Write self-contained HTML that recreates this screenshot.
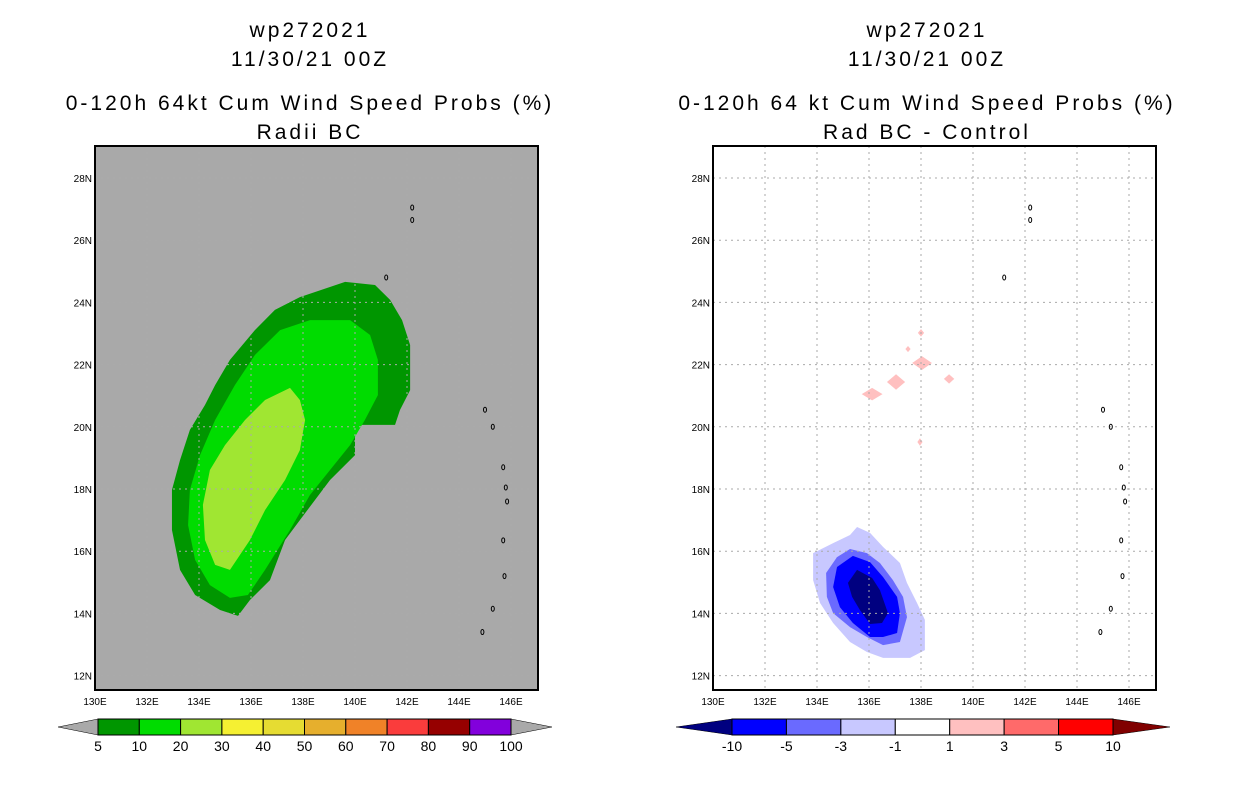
<!DOCTYPE html>
<html><head><meta charset="utf-8"><style>
body{margin:0;background:#fff;width:1236px;height:800px;overflow:hidden}
svg text{font-family:"Liberation Sans",sans-serif;fill:#000}
</style></head><body>
<svg id="c" width="1236" height="800"></svg>
<script>
// ---- data ----
const lonTicks=[130,132,134,136,138,140,142,144,146];
const latTicks=[12,14,16,18,20,22,24,26,28];
const leftLevels=["5","10","20","30","40","50","60","70","80","90","100"];
const leftColors=["#009600","#00dc00","#a0e632","#f5f032","#e6dc32","#e6af2d","#f08228","#fa3c3c","#960000","#8200dc"];
const rightLevels=["-10","-5","-3","-1","1","3","5","10"];
const rightColors=["#0000ff","#6a6aff","#c8c8ff","#ffffff","#ffc0c0","#ff6a6a","#ff0000"];
const prob5=[[137.88,24.17],[139.62,24.66],[140.77,24.56],[141.35,24.08],[141.81,23.43],[142.12,22.63],[142.12,21.18],[141.73,20.54],[141.54,20.06],[140.0,20.06],[140.0,19.09],[139.04,18.29],[137.88,17.0],[137.31,16.36],[136.73,15.07],[135.96,14.43],[135.5,13.92],[134.81,14.11],[133.85,14.59],[133.27,15.4],[132.96,16.68],[132.96,17.97],[133.27,18.93],[133.65,19.9],[134.23,20.7],[134.62,21.34],[135.19,22.15],[136.15,23.11],[136.92,23.76]];
const prob10=[[138.27,23.43],[139.81,23.43],[140.58,22.95],[140.88,22.15],[140.88,21.02],[140.38,20.22],[139.81,19.41],[139.04,18.61],[138.27,17.81],[137.5,16.68],[136.54,15.4],[135.88,14.59],[135.19,14.5],[134.42,14.91],[133.85,15.72],[133.58,16.84],[133.65,17.97],[134.04,19.09],[134.62,20.22],[135.38,21.34],[136.15,22.31],[137.12,23.11]];
const prob20=[[137.5,21.25],[137.88,20.86],[138.08,20.22],[137.88,19.25],[137.31,18.29],[136.54,17.32],[135.96,16.36],[135.19,15.4],[134.62,15.56],[134.23,16.36],[134.15,17.49],[134.42,18.61],[135.0,19.41],[135.77,20.22],[136.54,20.86]];
const diffM1=[[135.54,16.78],[136.04,16.59],[136.54,16.14],[137.19,15.62],[137.46,14.98],[137.85,14.33],[138.15,13.79],[138.15,12.82],[137.58,12.57],[136.54,12.57],[135.92,12.76],[135.27,13.08],[134.62,13.69],[134.12,14.33],[133.85,15.07],[133.85,15.94],[134.62,16.26],[135.27,16.52]];
const diffM3=[[135.27,16.07],[135.92,15.94],[136.42,15.62],[136.92,15.07],[137.31,14.53],[137.46,13.88],[137.19,13.08],[136.54,12.98],[135.92,13.24],[135.27,13.56],[134.62,14.01],[134.38,14.53],[134.35,15.3],[134.77,15.81]];
const diffM5=[[135.38,15.85],[136.04,15.65],[136.54,15.17],[137.08,14.53],[137.19,14.01],[137.08,13.37],[136.54,13.24],[136.04,13.24],[135.38,13.69],[134.88,14.2],[134.62,14.85],[134.77,15.49]];
const diffM10=[[135.54,15.4],[136.12,15.14],[136.42,14.75],[136.73,14.01],[136.5,13.69],[136.04,13.66],[135.65,14.11],[135.35,14.53],[135.19,14.98]];
const pinkLon=[136.12,137.04,138.04,139.08,138.0,137.5,137.96];
const pinkLat=[21.05,21.44,22.05,21.54,23.02,22.5,19.51];
const pinkW=[0.4,0.35,0.38,0.2,0.12,0.1,0.1];
const pinkH=[0.2,0.25,0.22,0.15,0.12,0.1,0.12];
const isleLon=[142.2,142.2,141.2,145.0,145.3,145.7,145.8,145.85,145.7,145.75,145.3,144.9];
const isleLat=[27.05,26.65,24.8,20.55,20.0,18.7,18.05,17.6,16.35,15.2,14.15,13.4];
// ---- drawing ----
const NS="http://www.w3.org/2000/svg";
const svg=document.getElementById('c');
function el(t,a,p){const e=document.createElementNS(NS,t);for(const k in a)e.setAttribute(k,a[k]);(p||svg).appendChild(e);return e;}
function txt(x,y,s,size,anchor,p){const e=el('text',{x:x,y:y,'font-size':size,'text-anchor':anchor||'middle'},p);e.textContent=s;return e;}
function panel(x0,name){
 const g=el('g',{});
 
 
 const X=lon=>x0+(lon-130)*26, Y=lat=>178+(28-lat)*31.1;
 return {g,X,Y,poly:(pts,fill,nm)=>{const p=el('polygon',{points:pts.map(q=>X(q[0])+','+Y(q[1])).join(' '),fill:fill},g);return p;}};
}
function frame(P,x0,bg){
 const r=el('rect',{x:x0,y:146,width:443,height:544,fill:bg},P.g);
 
 
}
function gridAxes(P,x0,grid){
 if(grid){
  lonTicks.forEach(l=>{const ln=el('line',{x1:P.X(l),x2:P.X(l),y1:146,y2:690,stroke:'#aaa','stroke-dasharray':'2,4'},P.g);});
  latTicks.forEach(l=>{const ln=el('line',{x1:x0,x2:x0+443,y1:P.Y(l),y2:P.Y(l),stroke:'#aaa','stroke-dasharray':'2,4'},P.g);});
 }
 isleLon.forEach((lo,i)=>{const e=el('ellipse',{cx:P.X(lo),cy:P.Y(isleLat[i]),rx:1.5,ry:2.5,fill:'none',stroke:'#000','stroke-width':1},P.g);});
 const b=el('rect',{x:x0,y:146,width:443,height:544,fill:'none',stroke:'#000','stroke-width':2},P.g);
 
 
 lonTicks.forEach(l=>{const t=txt(P.X(l),705,l+'E',10,'middle',P.g);});
 latTicks.forEach(l=>{const t=txt(x0-3,P.Y(l)+4,l+'N',10,'end',P.g);});
}
function titles(cx,lines,name){
 const ys=[37,66,110,139];
 lines.forEach((s,i)=>{const t=txt(cx,ys[i],s,21);t.setAttribute('letter-spacing','3');});
}
// Left
const L=panel(95,'left-panel');
frame(L,95,'#a9a9a9');
L.poly(prob5,leftColors[0],'prob-5-contour');
L.poly(prob10,leftColors[1],'prob-10-contour');
L.poly(prob20,leftColors[2],'prob-20-contour');
gridAxes(L,95,true);
titles(310,['wp272021','11/30/21 00Z','0-120h 64kt Cum Wind Speed Probs (%)','Radii BC'],'left');
// Right
const R=panel(713,'right-panel');
frame(R,713,'#fff');
R.poly(diffM1,'#c8c8ff','diff-minus1-contour');
R.poly(diffM3,'#6a6aff','diff-minus3-contour');
R.poly(diffM5,'#0000ff','diff-minus5-contour');
R.poly(diffM10,'#000080','diff-minus10-contour');
pinkLon.forEach((lo,i)=>{const la=pinkLat[i],w=pinkW[i],h=pinkH[i];
 R.poly([[lo-w,la],[lo,la+h],[lo+w,la],[lo,la-h]],'#ffc0c0','diff-plus1-blob');});
gridAxes(R,713,true);
titles(927,['wp272021','11/30/21 00Z','0-120h 64 kt Cum Wind Speed Probs (%)','Rad BC - Control'],'right');
// Colorbars
function colorbar(x0,x1,tl,tr,colors,labels,lc,rc,name){
 const g=el('g',{});
 
 
 const y0=719,y1=735,n=colors.length,w=(x1-x0)/n;
 const a=el('polygon',{points:`${tl},727 ${x0},${y0} ${x0},${y1}`,fill:lc,stroke:'#000','stroke-width':0.5},g);
 
 const b=el('polygon',{points:`${tr},727 ${x1},${y0} ${x1},${y1}`,fill:rc,stroke:'#000','stroke-width':0.5},g);
 
 colors.forEach((c,i)=>{const r=el('rect',{x:x0+i*w,y:y0,width:w,height:y1-y0,fill:c,stroke:'#000','stroke-width':1},g);});
 labels.forEach((s,i)=>{const t=txt(x0+i*w,751,s,14,'middle',g);});
}
colorbar(98,511,58,552,leftColors,leftLevels,'#a9a9a9','#a9a9a9','left-colorbar');
colorbar(732,1113,676,1170,rightColors,rightLevels,'#000080','#800000','right-colorbar');
</script>
</body></html>
